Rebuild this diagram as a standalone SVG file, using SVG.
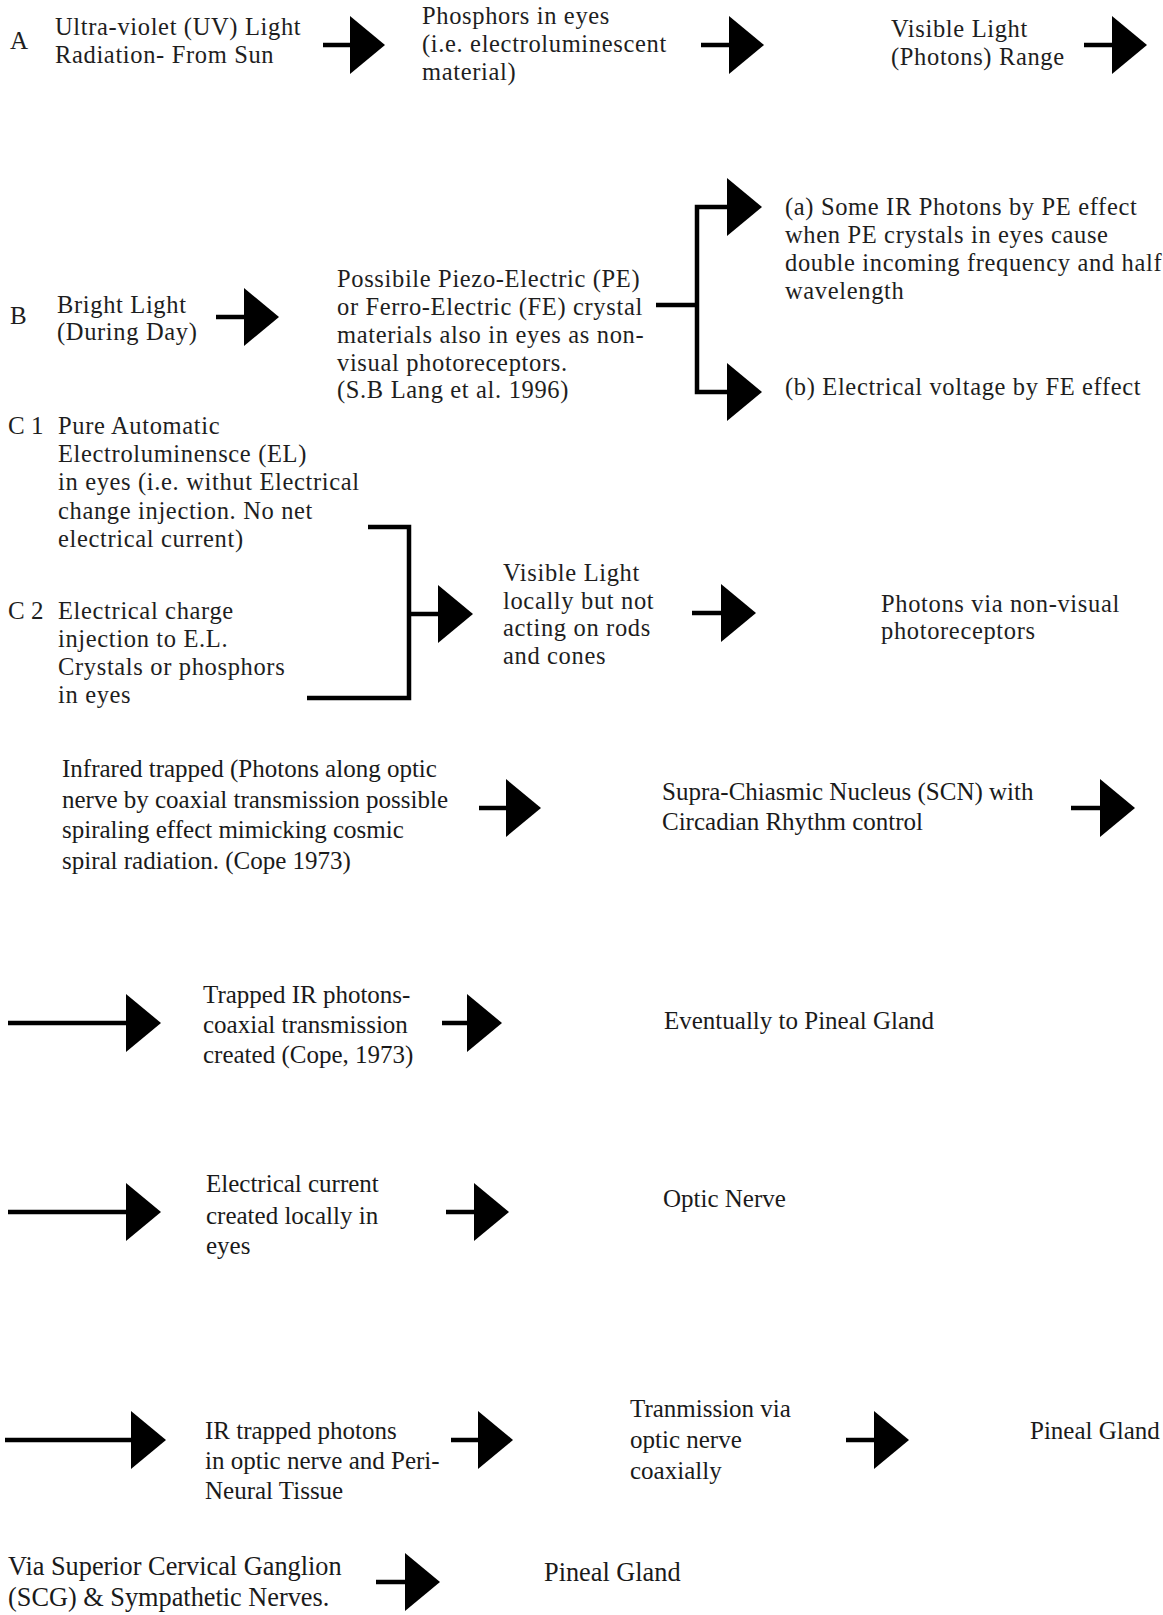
<svg xmlns="http://www.w3.org/2000/svg" width="1163" height="1615" viewBox="0 0 1163 1615">
<style>
.u{font-family:"Liberation Serif","Times New Roman",serif;font-size:24.5px;letter-spacing:0.65px;fill:#1e1e1e}
.l{font-family:"Liberation Serif","Times New Roman",serif;font-size:25px;fill:#1a1a1a}
.h{font-size:26.3px}
.lab{font-family:"Liberation Serif","Times New Roman",serif;font-size:25px;fill:#1e1e1e}
.c{fill:none;stroke:#000;stroke-width:4.5;stroke-linejoin:miter}
.a{marker-end:url(#ah)}
</style>
<defs>
<marker id="ah" markerUnits="userSpaceOnUse" markerWidth="35" markerHeight="58" viewBox="0 0 35 58" refX="1" refY="29" orient="auto">
<path d="M0,0 L35,29 L0,58 Z" fill="#000"/>
</marker>
</defs>
<rect width="1163" height="1615" fill="#fff"/>

<g id="n_A1"><text class="lab" x="10" y="49">A</text><text class="u" x="55" y="35">Ultra-violet (UV) Light<tspan x="55" y="63">Radiation- From Sun</tspan></text></g>
<g id="n_A2"><text class="u" x="422" y="24">Phosphors in eyes<tspan x="422" y="52">(i.e. electroluminescent</tspan><tspan x="422" y="80">material)</tspan></text></g>
<g id="n_A3"><text class="u" x="891" y="37">Visible Light<tspan x="891" y="65">(Photons) Range</tspan></text></g>

<g id="n_B1"><text class="lab" x="10" y="324">B</text><text class="u" x="57" y="313">Bright Light<tspan x="57" y="340">(During Day)</tspan></text></g>
<g id="n_B2"><text class="u" x="337" y="287">Possibile Piezo-Electric (PE)<tspan x="337" y="315">or Ferro-Electric (FE) crystal</tspan><tspan x="337" y="343">materials also in eyes as non-</tspan><tspan x="337" y="371">visual photoreceptors.</tspan><tspan x="337" y="398">(S.B Lang et al. 1996)</tspan></text></g>
<g id="n_Ba"><text class="u" x="785" y="215">(a) Some IR Photons by PE effect<tspan x="785" y="243">when PE crystals in eyes cause</tspan><tspan x="785" y="271">double incoming frequency and half</tspan><tspan x="785" y="299">wavelength</tspan></text></g>
<g id="n_Bb"><text class="u" x="785" y="395">(b) Electrical voltage by FE effect</text></g>

<g id="n_C1"><text class="lab" x="8" y="434">C 1</text><text class="u" x="58" y="434">Pure Automatic<tspan x="58" y="462">Electroluminensce (EL)</tspan><tspan x="58" y="490">in eyes (i.e. withut Electrical</tspan><tspan x="58" y="519">change injection. No net</tspan><tspan x="58" y="547">electrical current)</tspan></text></g>
<g id="n_C2"><text class="lab" x="8" y="619">C 2</text><text class="u" x="58" y="619">Electrical charge<tspan x="58" y="647">injection to E.L.</tspan><tspan x="58" y="675">Crystals or phosphors</tspan><tspan x="58" y="703">in eyes</tspan></text></g>
<g id="n_C3"><text class="u" x="503" y="581">Visible Light<tspan x="503" y="609">locally but not</tspan><tspan x="503" y="636">acting on rods</tspan><tspan x="503" y="664">and cones</tspan></text></g>
<g id="n_C4"><text class="u" x="881" y="612">Photons via non-visual<tspan x="881" y="639">photoreceptors</tspan></text></g>

<g id="n_D1"><text class="l" x="62" y="777">Infrared trapped (Photons along optic<tspan x="62" y="808">nerve by coaxial transmission possible</tspan><tspan x="62" y="838">spiraling effect mimicking cosmic</tspan><tspan x="62" y="869">spiral radiation. (Cope 1973)</tspan></text></g>
<g id="n_D2"><text class="l" x="662" y="800">Supra-Chiasmic Nucleus (SCN) with<tspan x="662" y="830">Circadian Rhythm control</tspan></text></g>

<g id="n_E1"><text class="l" x="203" y="1003">Trapped IR photons-<tspan x="203" y="1033">coaxial transmission</tspan><tspan x="203" y="1063">created (Cope, 1973)</tspan></text></g>
<g id="n_E2"><text class="l" x="664" y="1029">Eventually to Pineal Gland</text></g>

<g id="n_F1"><text class="l" x="206" y="1192">Electrical current<tspan x="206" y="1224">created locally in</tspan><tspan x="206" y="1254">eyes</tspan></text></g>
<g id="n_F2"><text class="l" x="663" y="1207">Optic Nerve</text></g>

<g id="n_G1"><text class="l" x="205" y="1439">IR trapped photons<tspan x="205" y="1469">in optic nerve and Peri-</tspan><tspan x="205" y="1499">Neural Tissue</tspan></text></g>
<g id="n_G2"><text class="l" x="630" y="1417">Tranmission via<tspan x="630" y="1448">optic nerve</tspan><tspan x="630" y="1479">coaxially</tspan></text></g>
<g id="n_G3"><text class="l" x="1030" y="1439">Pineal Gland</text></g>

<g id="n_H1"><text class="l h" x="8" y="1575">Via Superior Cervical Ganglion<tspan x="8" y="1606">(SCG) &amp; Sympathetic Nerves.</tspan></text></g>
<g id="n_H2"><text class="l h" x="544" y="1581">Pineal Gland</text></g>

<g id="connectors">
<path class="c a" d="M323,45 H351"/>
<path class="c a" d="M701,45 H730"/>
<path class="c a" d="M1084,45 H1113"/>
<path class="c a" d="M216,317 H245"/>
<path class="c" d="M656,305 H697"/>
<path class="c a" d="M697,305 V207 H728"/>
<path class="c a" d="M697,305 V392 H728"/>
<path class="c" d="M368,527 H409 V698 H307"/>
<path class="c a" d="M409,614 H439"/>
<path class="c a" d="M692,613 H722"/>
<path class="c a" d="M479,808 H507"/>
<path class="c a" d="M1071,808 H1101"/>
<path class="c a" d="M8,1023 H127"/>
<path class="c a" d="M442,1023 H468"/>
<path class="c a" d="M8,1212 H127"/>
<path class="c a" d="M446,1212 H475"/>
<path class="c a" d="M5,1440 H132"/>
<path class="c a" d="M451,1440 H479"/>
<path class="c a" d="M846,1440 H875"/>
<path class="c a" d="M376,1582 H406"/>
</g>
</svg>
